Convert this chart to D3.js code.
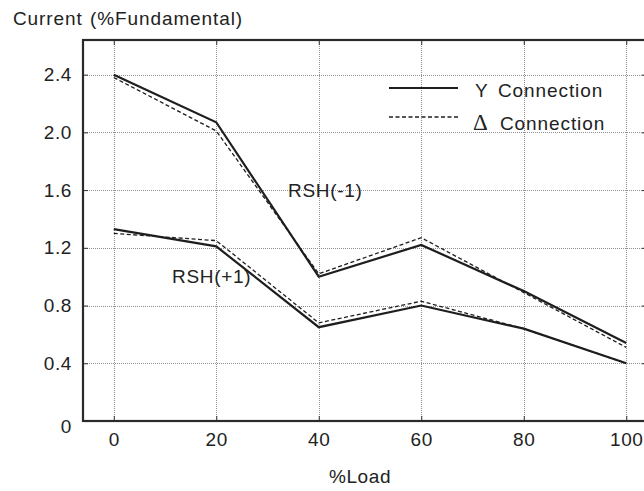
<!DOCTYPE html>
<html>
<head>
<meta charset="utf-8">
<script src="https://cdn.jsdelivr.net/npm/d3@7"></script>
<style>
  html, body { margin: 0; padding: 0; background: #fff; }
  svg { display: block; }
  text { font-family: "Liberation Sans", Arial, Helvetica, sans-serif; fill: #222; }
</style>
</head>
<body>
<svg id="chart" width="644" height="491"></svg>
<script>
// Harmonic current versus load, Y vs delta transformer connection
const loads = [0, 20, 40, 60, 80, 100];
const yConnMinus = [2.40, 2.07, 1.00, 1.22, 0.90, 0.54];
const deltaConnMinus = [2.38, 2.01, 1.02, 1.27, 0.89, 0.51];
const yConnPlus = [1.33, 1.21, 0.65, 0.80, 0.64, 0.40];
const deltaConnPlus = [1.30, 1.25, 0.68, 0.83, 0.64, 0.40];
const yTicks = [0, 0.4, 0.8, 1.2, 1.6, 2.0, 2.4];
const xTicks = [0, 20, 40, 60, 80, 100];

const svg = d3.select("#chart");
const plotLeft = 83, plotRight = 646.75, plotTop = 40, plotBottom = 421;

const x = d3.scaleLinear().domain([-6, 104]).range([plotLeft, plotRight]);
const y = d3.scaleLinear().domain([0, 2.64]).range([plotBottom, plotTop]);

// grid
const grid = svg.append("g").attr("stroke", "#909090").attr("stroke-width", 1)
  .attr("stroke-dasharray", "1,1").attr("shape-rendering", "crispEdges");
grid.selectAll("line.h").data(yTicks.filter(d => d > 0)).join("line")
  .attr("class", "h")
  .attr("x1", plotLeft).attr("x2", plotRight)
  .attr("y1", d => Math.round(y(d)) + 0.5).attr("y2", d => Math.round(y(d)) + 0.5);
grid.selectAll("line.v").data(xTicks).join("line")
  .attr("class", "v")
  .attr("y1", plotTop).attr("y2", plotBottom)
  .attr("x1", d => Math.round(x(d)) + 0.5).attr("x2", d => Math.round(x(d)) + 0.5);

// axes with inward ticks
const fmt = d => d === 0 ? "0" : d3.format(".1f")(d);
const gl = svg.append("g").attr("transform", `translate(${plotLeft},0)`)
  .call(d3.axisLeft(y).tickValues(yTicks).tickFormat(fmt).tickSize(-5).tickPadding(11));
gl.selectAll("text").filter(d => d === 0).attr("dy", "0.62em");
svg.append("g").attr("transform", `translate(0,${plotBottom})`)
  .call(d3.axisBottom(x).tickValues(xTicks).tickFormat(d3.format("d")).tickSize(-5).tickPadding(12));
svg.append("g").attr("transform", `translate(${plotRight},0)`)
  .call(d3.axisRight(y).tickValues(yTicks).tickFormat("").tickSize(-5));
svg.append("g").attr("transform", `translate(0,${plotTop})`)
  .call(d3.axisTop(x).tickValues(xTicks).tickFormat("").tickSize(-5));
svg.selectAll(".domain").remove();
svg.selectAll(".tick line").attr("stroke", "#333");
svg.selectAll(".tick text").style("font-size", "19px").style("font-family", "'Liberation Sans', Arial, sans-serif")
  .attr("fill", "#222").style("letter-spacing", "0.6px");

// frame
svg.append("rect").attr("x", plotLeft).attr("y", plotTop)
  .attr("width", plotRight - plotLeft).attr("height", plotBottom - plotTop)
  .attr("fill", "none").attr("stroke", "#2a2a2a").attr("stroke-width", 2.2);

// series
const line = d3.line().x((d, i) => x(loads[i])).y(d => y(d));
const series = [
  { values: yConnMinus, dash: null },
  { values: deltaConnMinus, dash: "4,2.5" },
  { values: yConnPlus, dash: null },
  { values: deltaConnPlus, dash: "4,2.5" }
];
svg.append("g").selectAll("path").data(series).join("path")
  .attr("d", d => line(d.values))
  .attr("fill", "none")
  .attr("stroke", "#1e1e1e")
  .attr("stroke-width", d => d.dash ? 1.3 : 2.2)
  .attr("stroke-dasharray", d => d.dash);

// curve labels
svg.append("text").attr("x", 288).attr("y", 190).attr("dy", "0.35em")
  .style("font-size", "19px").style("letter-spacing", "0.7px").text("RSH(-1)");
svg.append("text").attr("x", 172).attr("y", 276).attr("dy", "0.35em")
  .style("font-size", "19px").style("letter-spacing", "0.7px").text("RSH(+1)");

// legend
const legend = svg.append("g");
legend.append("line").attr("x1", 389).attr("x2", 458).attr("y1", 88).attr("y2", 88)
  .attr("stroke", "#1e1e1e").attr("stroke-width", 2.2);
legend.append("line").attr("x1", 389).attr("x2", 459).attr("y1", 117).attr("y2", 117)
  .attr("stroke", "#1e1e1e").attr("stroke-width", 1.3).attr("stroke-dasharray", "4,2.5");
const t1 = legend.append("text").attr("y", 90).attr("dy", "0.35em")
  .style("font-size", "19px").style("letter-spacing", "0.9px");
t1.append("tspan").attr("x", 475).text("Y");
t1.append("tspan").attr("x", 498).text("Connection");
const t2 = legend.append("text").attr("y", 123).attr("dy", "0.35em")
  .style("font-size", "19px").style("letter-spacing", "0.9px");
t2.append("tspan").attr("x", 473)
  .style("font-family", "'Liberation Serif', 'Times New Roman', serif")
  .style("font-size", "23px").text("\u0394");
t2.append("tspan").attr("x", 500).text("Connection");

// axis titles
const yt = svg.append("text").attr("y", 18).attr("dy", "0.35em")
  .style("font-size", "19px").style("letter-spacing", "0.9px");
yt.append("tspan").attr("x", 13).text("Current");
yt.append("tspan").attr("x", 90).text("(%Fundamental)");
svg.append("text").attr("x", 360).attr("y", 476).attr("dy", "0.35em")
  .attr("text-anchor", "middle")
  .style("font-size", "19px").style("letter-spacing", "0.6px").text("%Load");
</script>
</body>
</html>
